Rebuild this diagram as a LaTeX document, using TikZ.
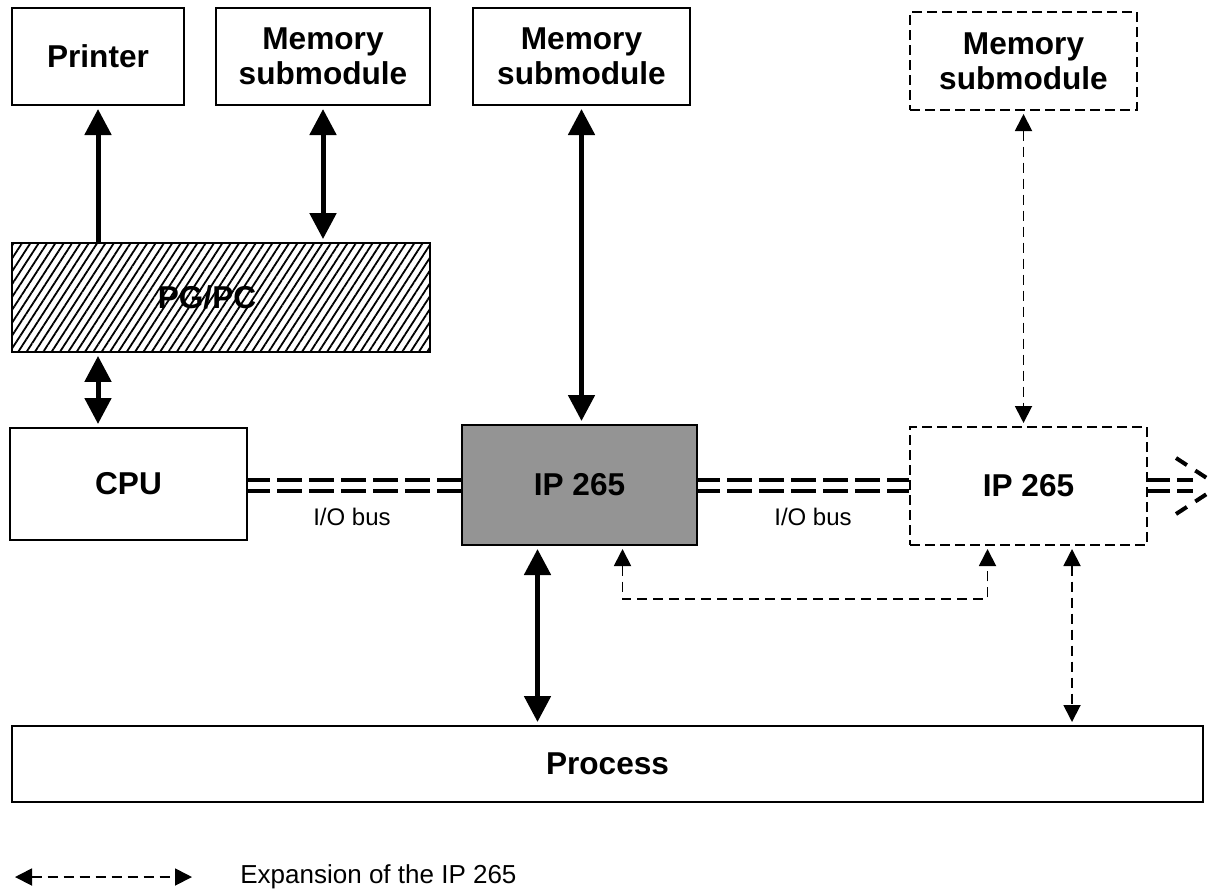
\documentclass[tikz,border=0pt]{standalone}
\usepackage{fontspec}
\setmainfont{Liberation Sans}
\usetikzlibrary{positioning,arrows.meta,patterns.meta,calc}

\begin{document}
\begin{tikzpicture}[x=0.5pt,y=-0.5pt]
\tikzset{
  label/.style={align=center,font=\bfseries\fontsize{15.8}{17.5}\selectfont},
  box/.style={label,draw,line width=1pt,inner sep=0pt},
  ghost/.style={box,dash pattern=on 5pt off 2.5pt},
  link/.style={line width=2.5pt,shorten >=1.5pt,-{Triangle[length=13pt,width=13pt]}},
  twoway/.style={link,shorten <=1.5pt,{Triangle[length=13pt,width=13pt]}-{Triangle[length=13pt,width=13pt]}},
  thinlink/.style={line width=0.9pt,dash pattern=on 5pt off 3pt,shorten >=1.5pt,shorten <=1.5pt,
    {Triangle[length=8.5pt,width=8.5pt]}-{Triangle[length=8.5pt,width=8.5pt]}},
  bus/.style={line width=2pt,dash pattern=on 12.5pt off 3.5pt,dash phase=1.5pt},
  small/.style={inner sep=0pt,font=\fontsize{12}{14}\selectfont}
}
\useasboundingbox (0,0) rectangle (1213,894);

% top row
\node[box,minimum width=86pt,minimum height=48.5pt] (printer) at (98,56.5) {Printer};
\node[box,minimum width=107pt,minimum height=48.5pt] (memA) at (323,56.5) {Memory\\submodule};
\node[box,minimum width=108.5pt,minimum height=48.5pt] (memB) at (581.5,56.5) {Memory\\submodule};
\node[ghost,minimum width=113.5pt,minimum height=49pt] (memC) at (1023.5,61) {Memory\\submodule};

% programmer
\node[box,minimum width=209pt,minimum height=54.5pt,
  pattern={Lines[angle=57,distance=3.5pt,line width=0.9pt]}] (pgpc) at (221,297.5) {};
\node[label] (pgpclabel) at ($(pgpc.center)+(-14,0)$) {PG/PC};

% bus row
\node[box,minimum width=118.5pt,minimum height=56pt] (cpu) at (128.5,484) {CPU};
\node[box,minimum width=117.5pt,minimum height=60pt,fill=black!42] (ipA) at (579.5,485) {IP 265};
\node[ghost,minimum width=118.5pt,minimum height=59pt] (ipB) at (1028.5,486) {IP 265};

\node[box,minimum width=595.5pt,minimum height=38pt] (process) at (607.5,764) {Process};

% I/O bus
\coordinate (busU) at (0,480);
\coordinate (busL) at (0,491);
\foreach \b in {busU,busL} {
  \draw[bus] (cpu.east |- \b) -- (ipA.west |- \b);
  \draw[bus] (ipA.east |- \b) -- (ipB.west |- \b);
  \draw[bus] (ipB.east |- \b) -- ++(45,0);
}
\node[small] (busA) at (352,517) {I/O bus};
\node[small] (busB) at (813,517) {I/O bus};

% continuation mark
\coordinate (tip) at (1219,486);
\draw[line width=2pt,dash pattern=on 6.5pt off 5pt] (1176,458) -- (tip);
\draw[line width=2pt,dash pattern=on 6.5pt off 5pt] (1176,514) -- (tip);

% connections
\draw[link] (pgpc.north -| printer.south) -- (printer.south);
\draw[twoway] (memA.south) -- (memA.south |- pgpc.north);
\draw[twoway] (pgpc.south -| printer) -- (cpu.north -| printer);
\draw[twoway] (memB.south) -- (memB.south |- ipA.north);
\draw[thinlink] (memC.south) -- (memC.south |- ipB.north);

\coordinate (ipAlow) at ($(ipA.south)+(-42,0)$);
\coordinate (ipAloop) at ($(ipA.south)+(43,0)$);
\coordinate (ipBloop) at ($(ipB.south)+(-41,0)$);
\coordinate (ipBlow) at ($(ipB.south)+(43.5,0)$);
\draw[twoway] (ipAlow) -- (ipAlow |- process.north);
\draw[thinlink] (ipAloop) -- ++(0,53) -| (ipBloop);
\draw[thinlink] (ipBlow) -- (ipBlow |- process.north);

% legend
\coordinate (legA) at (15,877);
\coordinate (legB) at (192,877);
\draw[thinlink,shorten <=0pt,shorten >=0pt] (legA) -- (legB);
\node[small,font=\fontsize{13}{15}\selectfont,anchor=west] (legend) at (240,877) {Expansion of the IP 265};
\end{tikzpicture}
\end{document}
